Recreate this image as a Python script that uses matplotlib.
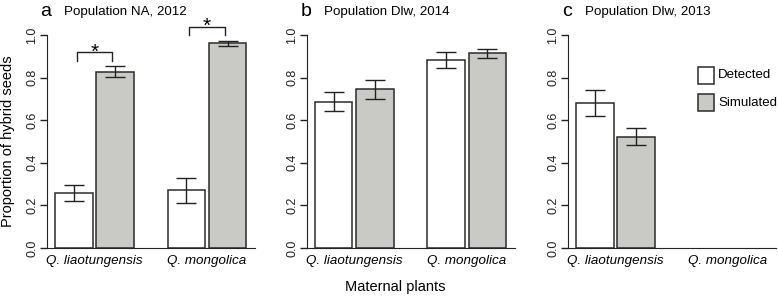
import numpy as np
import matplotlib.pyplot as plt
from matplotlib.patches import Rectangle

plt.rcParams['font.family'] = ['Liberation Sans', 'DejaVu Sans']

# data
groups = ['Q. liaotungensis', 'Q. mongolica']
letters = ['a', 'b', 'c']
titles = ['Population NA, 2012', 'Population Dlw, 2014', 'Population Dlw, 2013']

detected = [[0.26, 0.27], [0.687, 0.883], [0.68, np.nan]]
detected_err = [[0.037, 0.06], [0.045, 0.036], [0.062, np.nan]]
simulated = [[0.828, 0.961], [0.745, 0.915], [0.522, np.nan]]
simulated_err = [[0.025, 0.011], [0.045, 0.021], [0.04, np.nan]]
signif = [[True, True], [False, False], [False, False]]

W, H = 778, 297
fig = plt.figure(figsize=(W / 100, H / 100), dpi=100)

edge = '#2b2b2b'
grey = '#c9c9c5'
ax_left = [47, 306.7, 568]
centers = np.array([1.27, 4.27])

for i in range(3):
    ax = fig.add_axes([ax_left[i] / W, (H - 248) / H, 208 / W, 213 / H])
    det = np.array(detected[i])
    det_e = np.array(detected_err[i])
    sim = np.array(simulated[i])
    sim_e = np.array(simulated_err[i])
    ok = ~np.isnan(det)
    xd = centers[ok] - 0.55
    xs = centers[ok] + 0.55

    ax.bar(xd, det[ok], width=1, color='white', edgecolor=edge, linewidth=1.1)
    ax.bar(xs, sim[ok], width=1, color=grey, edgecolor=edge, linewidth=1.1)
    ax.errorbar(xd, det[ok], yerr=det_e[ok], fmt='none', ecolor='#222222',
                elinewidth=1, capsize=7, capthick=1)
    ax.errorbar(xs, sim[ok], yerr=sim_e[ok], fmt='none', ecolor='#222222',
                elinewidth=1, capsize=7, capthick=1)

    # significance brackets
    for j in range(2):
        if signif[i][j]:
            top_err = max(det[j] + det_e[j], sim[j] + sim_e[j])
            leg = top_err + 0.027
            top = top_err + 0.065
            x1 = centers[j] - 0.55 + 0.08
            x2 = centers[j] + 0.55 - 0.08
            ax.plot([x1, x1, x2, x2], [leg, top, top, leg], color='#222222',
                    lw=1, clip_on=False)
            ax.text(centers[j], top - 0.024, '*', ha='center', va='baseline',
                    fontsize=15, clip_on=False)

    ax.set_xlim(0, 5.55)
    ax.set_ylim(0, 1)
    for s in ['top', 'right']:
        ax.spines[s].set_visible(False)
    ax.spines['left'].set_bounds(0, 1)
    ax.spines['left'].set_color('#222222')
    ax.spines['bottom'].set_color('#222222')

    ax.set_yticks(np.arange(0, 1.01, 0.2))
    ax.set_yticklabels(['%.1f' % v for v in np.arange(0, 1.01, 0.2)],
                       rotation=90, va='center')
    ax.tick_params(axis='y', length=5, width=1, pad=1.2, labelsize=9,
                   colors='#222222')
    ax.set_xticks(centers)
    ax.set_xticklabels(groups, style='italic')
    ax.tick_params(axis='x', length=0, pad=5, labelsize=9.6)

    fig.text((ax_left[i] - 1) / W, 1 - 16 / H, letters[i], ha='center',
             va='baseline', fontsize=14)
    fig.text((ax_left[i] + 17) / W, 1 - 15 / H, titles[i], ha='left',
             va='baseline', fontsize=9.6)

# legend
for k, (lab, col) in enumerate([('Detected', 'white'), ('Simulated', grey)]):
    y0 = 66.7 + k * 27.3
    fig.patches.append(Rectangle((697.7 / W, 1 - (y0 + 17) / H), 16.6 / W, 17 / H,
                                 facecolor=col, edgecolor=edge, lw=1.1,
                                 transform=fig.transFigure))
    fig.text(718 / W, 1 - (y0 + 8.5) / H, lab, ha='left', va='center',
             fontsize=9.5)

fig.text(8 / W, 1 - 141 / H, 'Proportion of hybrid seeds', rotation=90,
         ha='center', va='center', fontsize=10.5)
fig.text(395 / W, 1 - 287 / H, 'Maternal plants', ha='center', va='center',
         fontsize=10.5)

plt.savefig('out.png', dpi=100)
